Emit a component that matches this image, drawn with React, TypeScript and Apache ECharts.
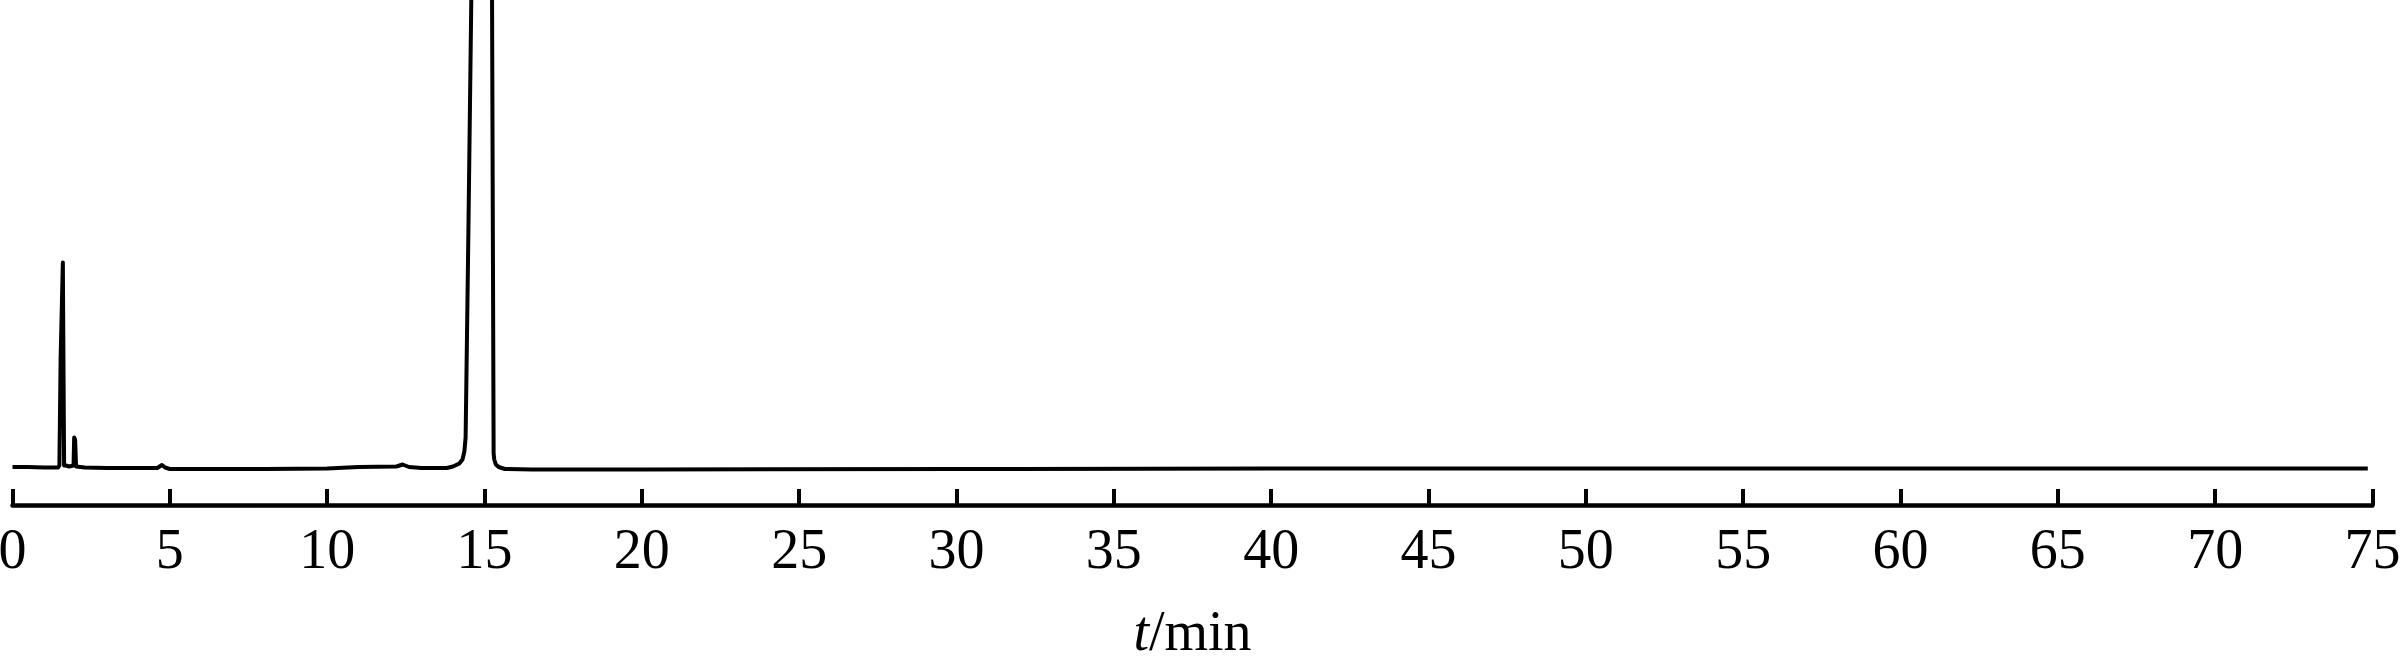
import React, { useEffect, useRef } from "react";
import * as echarts from "echarts";

// Retention time (min)
const times: number[] = [
  0, 0.5, 1.0, 1.45, 1.49, 1.53, 1.60, 1.64, 1.70, 1.80, 1.94, 1.96, 1.99, 2.02, 2.3, 3.0, 4.0, 4.6,
  4.75, 4.85, 5.0, 6.0, 8.0, 10.0, 11.0, 12.2, 12.4, 12.6, 13.0, 13.5, 13.8, 14.0, 14.2, 14.3, 14.36,
  14.4, 14.49, 14.58, 14.62, 14.9, 15.2, 15.24, 15.29, 15.31, 15.36, 15.45, 15.65, 16.5, 20, 30, 40,
  50, 60, 70, 74.85,
];
// Detector signal (arbitrary units)
const signal: number[] = [
  0.5, 0.5, 0, 0, 2, 110, 205, 2, 2, 1, 2, 30, 28, 1, 0, -0.5, -0.5, -0.5,
  2.5, 0, -1.5, -1.5, -1.5, -1, 0.5, 1, 3, 0.5, -0.5, -0.5, -0.5, 1, 4, 8, 16,
  30, 240, 467, 700, 6000, 700, 467, 14, 8, 3, 0.5, -1.5, -2, -2, -1.5, -1,
  -1, -1, -1, -1,
];
const xTicks = { min: 0, max: 75, interval: 5 };
const axisName = "{i|t}/min";

export default function App() {
  const ref = useRef<HTMLDivElement>(null);
  useEffect(() => {
    if (!ref.current) return;
    const chart = echarts.init(ref.current, undefined, { renderer: "svg" });
    const data = times.map((t, i) => [t, signal[i]]);
    chart.setOption({
      animation: false,
      backgroundColor: "#ffffff",
      grid: {
        left: 12.5,
        right: 28.5,
        top: 0,
        bottom: 160,
        containLabel: false,
        outerBoundsMode: "none",
      },
      xAxis: {
        type: "value",
        min: xTicks.min,
        max: xTicks.max,
        interval: xTicks.interval,
        name: axisName,
        nameLocation: "middle",
        nameGap: 98,
        nameTextStyle: {
          fontFamily: "Liberation Serif",
          fontSize: 56,
          color: "#000",
          rich: {
            i: { fontFamily: "Liberation Serif", fontSize: 56, fontStyle: "italic", color: "#000" },
          },
        },
        axisLine: { show: true, onZero: false, lineStyle: { color: "#000", width: 4.5 } },
        axisTick: { show: true, inside: true, length: 16, lineStyle: { color: "#000", width: 4 } },
        axisLabel: {
          fontFamily: "Liberation Serif",
          fontSize: 56,
          color: "#000",
          margin: 16,
          showMinLabel: true,
          showMaxLabel: true,
        },
        splitLine: { show: false },
      },
      yAxis: {
        type: "value",
        min: -37.5,
        max: 467.5,
        show: false,
        splitLine: { show: false },
      },
      series: [
        {
          type: "line",
          data,
          showSymbol: false,
          symbol: "none",
          smooth: false,
          clip: true,
          lineStyle: { color: "#000", width: 4, join: "round" },
        },
      ],
    });
    return () => chart.dispose();
  }, []);
  return (
    <div
      ref={ref}
      style={{ position: "fixed", left: 0, top: 0, width: 2401, height: 665, background: "#fff" }}
    />
  );
}
